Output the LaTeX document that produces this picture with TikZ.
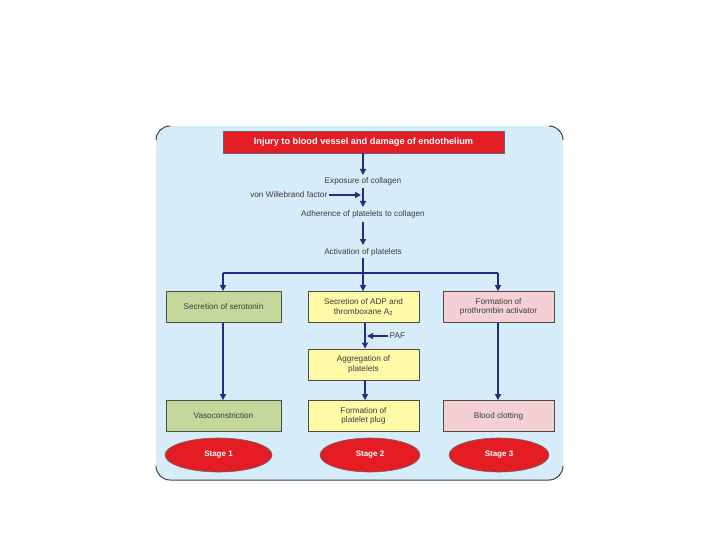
\documentclass[tikz,border=0pt]{standalone}
\usepackage{fontspec}
\setmainfont{Liberation Sans}
\usetikzlibrary{shapes.geometric,arrows.meta}
\definecolor{bgblue}{RGB}{214,236,248}
\definecolor{boxred}{RGB}{228,28,36}
\definecolor{boxgreen}{RGB}{196,216,156}
\definecolor{boxyellow}{RGB}{255,250,166}
\definecolor{boxpink}{RGB}{244,208,212}
\definecolor{navy}{RGB}{36,46,128}
\definecolor{txt}{RGB}{60,60,60}
\tikzset{
  lbl/.style={font=\fontsize{8.2}{9.6}\selectfont, text=txt, inner sep=1.5pt, align=center},
  flowbox/.style={draw=black!70, line width=0.8pt, minimum height=31pt, inner sep=1pt,
    font=\fontsize{8.2}{9.6}\selectfont, text=txt, align=center},
  stagebox/.style={ellipse, draw=black!60, line width=0.6pt, fill=boxred, minimum height=34pt,
    text=white, font=\bfseries\fontsize{8}{9.6}\selectfont},
  flow/.style={draw=navy, line width=1.5pt, -{Triangle[length=6pt,width=6pt]}},
  flowline/.style={draw=navy, line width=1.5pt},
  rim/.style={draw=black!75, line width=1pt, rounded corners=14pt}
}
\begin{document}
\begin{tikzpicture}[x=1pt,y=-1pt]
\useasboundingbox (0,0) rectangle (720,540);
\fill[white] (0,0) rectangle (720,540);
% background panel
\fill[bgblue, rounded corners=14pt] (156,126) rectangle (563,480);
\draw[rim] (156,140) -- (156,126) -- (170,126);
\draw[rim] (549,126) -- (563,126) -- (563,140);
\draw[rim] (156,466) -- (156,480) -- (563,480) -- (563,466);

% title
\node[draw=black!60, line width=0.8pt, fill=boxred, minimum width=281pt, minimum height=22pt,
  text=white, font=\bfseries\fontsize{9.2}{11}\selectfont] (title) at (363.5,142) {Injury to blood vessel and damage of endothelium};

\node[lbl] (expo) at (363,181) {Exposure of collagen};
\node[lbl, anchor=east] (vwf) at (329,195) {von Willebrand factor};
\node[lbl] (adh) at (363,214) {Adherence of platelets to collagen};
\node[lbl] (act) at (363,252) {Activation of platelets};

\node[flowbox, fill=boxgreen, minimum width=115pt] (sec1) at (223.5,307) {Secretion of serotonin};
\node[flowbox, fill=boxyellow, minimum width=111pt] (sec2) at (363.5,307) {Secretion of ADP and\\thromboxane A\textsubscript{2}};
\node[flowbox, fill=boxpink, minimum width=111pt] (sec3) at (498.5,307) {Formation of\\prothrombin activator};

\node[flowbox, fill=boxyellow, minimum width=111pt] (agg) at (363.5,364.5) {Aggregation of\\platelets};
\node[lbl, anchor=west] (paf) at (388,336) {PAF};

\node[flowbox, fill=boxgreen, minimum width=115pt] (vaso) at (223.5,416) {Vasoconstriction};
\node[flowbox, fill=boxyellow, minimum width=111pt] (plug) at (363.5,416) {Formation of\\platelet plug};
\node[flowbox, fill=boxpink, minimum width=111pt] (clot) at (498.5,416) {Blood clotting};

\node[stagebox, minimum width=107pt] (st1) at (218.5,455) {Stage 1};
\node[stagebox, minimum width=100pt] (st2) at (370,455) {Stage 2};
\node[stagebox, minimum width=100pt] (st3) at (499,455) {Stage 3};

% connectors
\coordinate (c1) at (363,175);
\draw[flow] (title.south -| c1) -- (c1);
\coordinate (c2) at (363,207);
\draw[flow] (363,188) -- (c2);
\coordinate (vwfend) at (361,195);
\draw[flow] (vwf.east) -- (vwfend);
\coordinate (c3) at (363,245);
\draw[flow] (363,222) -- (c3);

\coordinate (hl) at (223,273);
\coordinate (hr) at (498,273);
\draw[flowline] (hl) -- (hr);
\draw[flow] (act.south -| 363,0) -- (sec2.north -| 363,0);
\draw[flow] (hl) -- (sec1.north -| hl);
\draw[flow] (hr) -- (sec3.north -| hr);

\draw[flow] (sec2.south -| 365,0) -- (agg.north -| 365,0);
\coordinate (pafend) at (367,336);
\draw[flow, line width=1.2pt] (paf.west) -- (pafend);

\draw[flow] (sec1.south -| 223,0) -- (vaso.north -| 223,0);
\draw[flow] (agg.south -| 365,0) -- (plug.north -| 365,0);
\draw[flow] (sec3.south -| 498,0) -- (clot.north -| 498,0);
\end{tikzpicture}
\end{document}
